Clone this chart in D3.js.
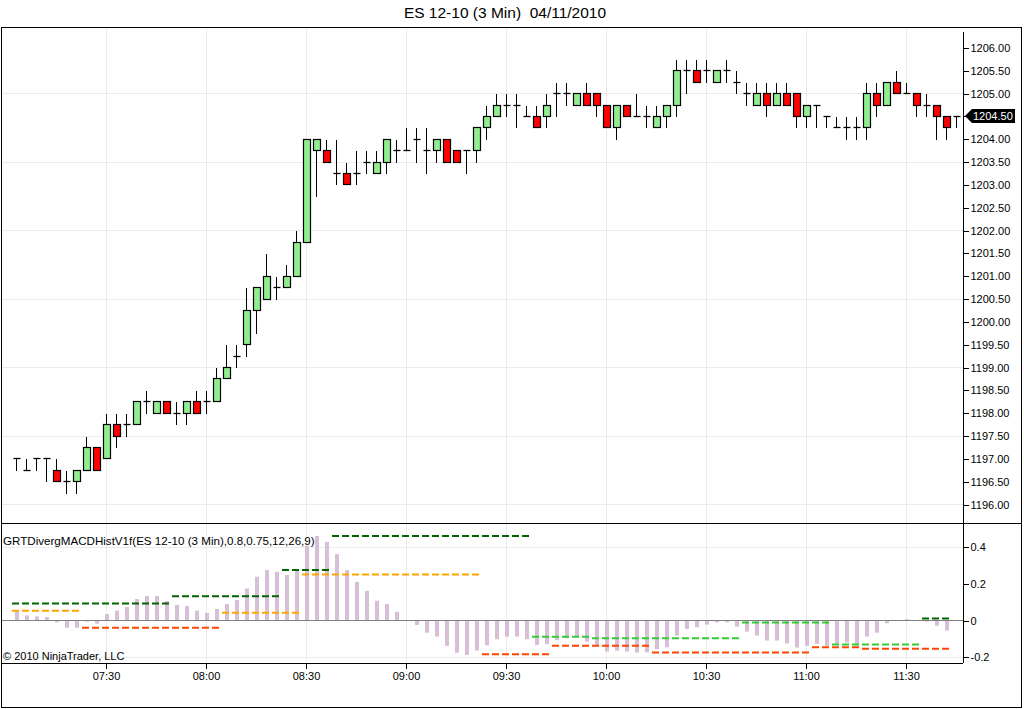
<!DOCTYPE html>
<html>
<head>
<meta charset="utf-8">
<script src="https://cdn.jsdelivr.net/npm/d3@7"></script>
<style>
  body { margin: 0; background: #fff; }
  svg { display: block; font-family: "Liberation Sans", Arial, sans-serif; }
  .axis text { font-size: 11px; fill: #000; }
  .axis line { stroke: #000; shape-rendering: crispEdges; }
  .grid line { stroke: #ebebeb; shape-rendering: crispEdges; }
</style>
</head>
<body>
<svg id="chart"></svg>
<script>
// chart texts
const chartTitle = 'ES 12-10 (3 Min)  04/11/2010';
const indicatorLabel = 'GRTDivergMACDHistV1f(ES 12-10 (3 Min),0.8,0.75,12,26,9)';
const copyrightLabel = '\u00a9 2010 NinjaTrader, LLC';

// 3 minute bars, first one stamped 07:03
const firstBarTime = '07:03';
const barMinutes = 3;

const opens = [
  1197, 1196.75, 1197, 1197, 1196.75, 1196.5, 1196.5, 1196.75, 1197.25, 1197,
  1197.75, 1197.75, 1197.75, 1198.25, 1198, 1198.25, 1198, 1198, 1198.25, 1198.25,
  1198.25, 1198.75, 1199.25, 1199.5, 1200.25, 1200.5, 1200.75, 1200.75, 1201, 1201.75,
  1203.75, 1203.75, 1203.25, 1203.25, 1203.25, 1203.5, 1203.25, 1203.5, 1203.75, 1203.75,
  1204, 1203.75, 1203.75, 1204, 1203.75, 1203.75, 1203.75, 1204.25, 1204.5, 1204.75,
  1204.75, 1204.5, 1204.5, 1204.5, 1205, 1205, 1204.75, 1205, 1205, 1204.75,
  1204.25, 1204.75, 1204.5, 1204.5, 1204.25, 1204.5, 1204.75, 1205.5, 1205.5, 1205.5,
  1205.25, 1205.5, 1205.25, 1205, 1204.75, 1205, 1204.75, 1205, 1205, 1204.5,
  1204.75, 1204.5, 1204.25, 1204.25, 1204.25, 1204.25, 1205, 1204.75, 1205.25, 1205,
  1205, 1204.75, 1204.75, 1204.5, 1204.5
];
const highs = [
  1197, 1197, 1197, 1197, 1197, 1196.75, 1196.75, 1197.5, 1197.25, 1198,
  1198, 1198, 1198.25, 1198.5, 1198.25, 1198.25, 1198.25, 1198.25, 1198.5, 1198.5,
  1199, 1199.5, 1199.5, 1200.75, 1200.75, 1201.5, 1201, 1201.25, 1202, 1204,
  1204, 1204, 1204, 1203.5, 1203.75, 1203.75, 1203.75, 1204, 1204, 1204.25,
  1204.25, 1204.25, 1204, 1204, 1203.75, 1203.75, 1204.25, 1204.75, 1205, 1205,
  1205, 1204.75, 1204.75, 1205, 1205.25, 1205.25, 1205, 1205.25, 1205, 1204.75,
  1204.75, 1204.75, 1205, 1204.75, 1204.75, 1204.75, 1205.75, 1205.75, 1205.75, 1205.75,
  1205.5, 1205.75, 1205.5, 1205.25, 1205.25, 1205.25, 1205.25, 1205.25, 1205, 1204.75,
  1204.75, 1204.5, 1204.5, 1204.5, 1204.5, 1205.25, 1205.25, 1205.25, 1205.5, 1205.25,
  1205, 1205, 1204.75, 1204.5, 1204.5
];
const lows = [
  1196.75, 1196.75, 1196.75, 1196.5, 1196.5, 1196.25, 1196.25, 1196.75, 1196.75, 1197,
  1197.25, 1197.5, 1197.75, 1198, 1198, 1198, 1197.75, 1197.75, 1198, 1198,
  1198.25, 1198.75, 1199, 1199.25, 1199.75, 1200.5, 1200.5, 1200.75, 1201, 1201.75,
  1202.75, 1203.5, 1203, 1203, 1203, 1203.25, 1203.25, 1203.25, 1203.5, 1203.75,
  1203.5, 1203.25, 1203.5, 1203.5, 1203.5, 1203.25, 1203.5, 1204, 1204.5, 1204.5,
  1204.25, 1204.5, 1204.25, 1204.25, 1204.5, 1204.75, 1204.75, 1204.75, 1204.5, 1204.25,
  1204, 1204.5, 1204.5, 1204.25, 1204.25, 1204.25, 1204.5, 1205, 1205.25, 1205.25,
  1205.25, 1205.25, 1205, 1204.75, 1204.75, 1204.5, 1204.75, 1204.75, 1204.25, 1204.25,
  1204.25, 1204.25, 1204.25, 1204, 1204, 1204, 1204.5, 1204.75, 1205, 1205,
  1204.5, 1204.5, 1204, 1204, 1204.25
];
const closes = [
  1197, 1196.75, 1197, 1197, 1196.5, 1196.5, 1196.75, 1197.25, 1196.75, 1197.75,
  1197.5, 1197.75, 1198.25, 1198.25, 1198.25, 1198, 1198, 1198.25, 1198, 1198.25,
  1198.75, 1199, 1199.25, 1200.25, 1200.75, 1201, 1200.75, 1201, 1201.75, 1204,
  1204, 1203.5, 1203.25, 1203, 1203.25, 1203.5, 1203.5, 1204, 1203.75, 1203.75,
  1204, 1203.75, 1204, 1203.5, 1203.5, 1203.75, 1204.25, 1204.5, 1204.75, 1204.75,
  1204.75, 1204.5, 1204.25, 1204.75, 1205, 1205, 1205, 1204.75, 1204.75, 1204.25,
  1204.75, 1204.5, 1204.5, 1204.5, 1204.5, 1204.75, 1205.5, 1205.5, 1205.25, 1205.5,
  1205.5, 1205.5, 1205.25, 1205, 1205, 1204.75, 1205, 1204.75, 1204.5, 1204.75,
  1204.75, 1204.5, 1204.25, 1204.25, 1204.25, 1205, 1204.75, 1205.25, 1205, 1205,
  1204.75, 1204.75, 1204.5, 1204.25, 1204.5
];

// MACD histogram, one value per bar
const histValues = [
  0.051, 0.025, 0.02, 0.016, -0.013, -0.042, -0.042, -0.009, -0.02, 0.033,
  0.051, 0.071, 0.114, 0.13, 0.13, 0.103, 0.082, 0.076, 0.051, 0.038,
  0.06, 0.087, 0.109, 0.172, 0.236, 0.272, 0.263, 0.245, 0.268, 0.404,
  0.458, 0.426, 0.359, 0.272, 0.208, 0.159, 0.105, 0.087, 0.045, 0,
  -0.027, -0.069, -0.091, -0.141, -0.178, -0.19, -0.167, -0.138, -0.105, -0.091,
  -0.091, -0.105, -0.136, -0.132, -0.109, -0.1, -0.091, -0.118, -0.136, -0.172,
  -0.167, -0.172, -0.178, -0.176, -0.159, -0.149, -0.085, -0.049, -0.04, -0.025,
  -0.013, -0.013, -0.036, -0.063, -0.085, -0.112, -0.112, -0.127, -0.15, -0.141,
  -0.13, -0.141, -0.13, -0.123, -0.13, -0.091, -0.069, -0.018, -0.002, 0.005,
  0, -0.009, -0.031, -0.058, 0
];

// divergence levels (dashed segments)
const segStart = ['07:03', '07:03', '07:24', '07:51', '08:06', '08:24', '08:30', '08:39', '09:24',
  '09:39', '09:45', '09:57', '10:15', '10:42', '11:03', '11:09', '11:18', '11:36'];
const segEnd = ['07:48', '07:21', '08:03', '08:21', '08:27', '08:36', '09:21', '09:36', '09:42',
  '09:54', '10:12', '10:39', '11:00', '11:06', '11:15', '11:33', '11:42', '11:42'];
const segValue = [0.09, 0.05, -0.042, 0.13, 0.04, 0.272, 0.248, 0.458, -0.187,
  -0.091, -0.14, -0.1, -0.177, -0.013, -0.149, -0.134, -0.156, 0.008];
const segColor = ['darkgreen', 'orange', 'orangered', 'darkgreen', 'orange', 'darkgreen', 'orange', 'darkgreen', 'orangered',
  'limegreen', 'orangered', 'limegreen', 'orangered', 'limegreen', 'orangered', 'limegreen', 'orangered', 'darkgreen'];

const priceTicks = d3.range(1196, 1206.01, 0.5);
const priceGrid = d3.range(1196, 1206.01, 1.5);
const histTicks = [-0.2, 0, 0.2, 0.4];
const histGrid = [-0.2, 0.4];

const config = {
  width: 1024,
  height: 709,
  frame: { left: 1, right: 1021, top: 27, bottom: 707 },
  axisX: 963,
  pricePanel: { top: 27, bottom: 523 },
  histPanel: { top: 523, bottom: 663 },
  upColor: '#90ee90',
  downColor: '#ff0000',
  histColor: '#d8bfd8'
};

const parseTime = d3.timeParse('%H:%M');
const t0 = parseTime(firstBarTime);
const bars = opens.map((o, i) => ({
  time: d3.timeMinute.offset(t0, i * barMinutes),
  open: o, high: highs[i], low: lows[i], close: closes[i], hist: histValues[i]
}));
const segments = segStart.map((s, i) => ({
  start: parseTime(s), end: parseTime(segEnd[i]), value: segValue[i], color: segColor[i]
}));
const last = bars[bars.length - 1];

const svg = d3.select('#chart')
  .attr('width', config.width)
  .attr('height', config.height);

// scales
const xScale = d3.scaleTime()
  .domain([bars[0].time, last.time])
  .range([16, 956]);
const yPrice = d3.scaleLinear().domain([1196, 1206]).range([504, 47.5]);
const yHist = d3.scaleLinear().domain([-0.2, 0.4]).range([656.7, 546.6]);

const px = d => Math.round(xScale(d)) + 0.5;
const py = v => Math.round(yPrice(v)) + 0.5;

svg.append('text')
  .attr('x', 505)
  .attr('y', 18)
  .attr('text-anchor', 'middle')
  .style('font-size', '15.5px')
  .style('white-space', 'pre')
  .text(chartTitle);

// grid lines
const grid = svg.append('g').attr('class', 'grid');
const timeTicks = xScale.ticks(d3.timeMinute.every(30));
grid.selectAll('.vgrid')
  .data(timeTicks)
  .join('line')
  .attr('x1', d => px(d)).attr('x2', d => px(d))
  .attr('y1', config.pricePanel.top).attr('y2', config.histPanel.bottom);
grid.selectAll('.pgrid')
  .data(priceGrid)
  .join('line')
  .attr('x1', config.frame.left).attr('x2', config.axisX)
  .attr('y1', d => py(d)).attr('y2', d => py(d));
grid.selectAll('.hgrid')
  .data(histGrid)
  .join('line')
  .attr('x1', config.frame.left).attr('x2', config.axisX)
  .attr('y1', d => Math.round(yHist(d)) + 0.5).attr('y2', d => Math.round(yHist(d)) + 0.5);

// candles
const candles = svg.append('g').attr('class', 'candles');
candles.selectAll('.wick')
  .data(bars)
  .join('line')
  .attr('class', 'wick')
  .attr('x1', d => px(d.time)).attr('x2', d => px(d.time))
  .attr('y1', d => py(d.high)).attr('y2', d => py(d.low))
  .attr('stroke', '#000')
  .attr('shape-rendering', 'crispEdges');
candles.selectAll('.body')
  .data(bars.filter(d => d.open !== d.close))
  .join('rect')
  .attr('class', 'body')
  .attr('x', d => px(d.time) - 3)
  .attr('width', 7)
  .attr('y', d => py(Math.max(d.open, d.close)))
  .attr('height', d => py(Math.min(d.open, d.close)) - py(Math.max(d.open, d.close)))
  .attr('fill', d => d.close > d.open ? config.upColor : config.downColor)
  .attr('stroke', '#000')
  .attr('stroke-width', 1.2);
candles.selectAll('.doji')
  .data(bars.filter(d => d.open === d.close))
  .join('line')
  .attr('class', 'doji')
  .attr('x1', d => px(d.time) - 3).attr('x2', d => px(d.time) + 4)
  .attr('y1', d => py(d.close)).attr('y2', d => py(d.close))
  .attr('stroke', '#000')
  .attr('stroke-width', 1.3);

// histogram panel
const hist = svg.append('g').attr('class', 'hist');
const zeroY = Math.round(yHist(0)) + 0.5;
hist.selectAll('.hbar')
  .data(bars.filter(d => d.hist !== 0))
  .join('rect')
  .attr('class', 'hbar')
  .attr('x', d => px(d.time) - 1.5)
  .attr('width', 4)
  .attr('y', d => Math.min(yHist(d.hist), yHist(0)))
  .attr('height', d => Math.abs(yHist(d.hist) - yHist(0)))
  .attr('fill', config.histColor);
hist.append('line')
  .attr('x1', config.frame.left).attr('x2', config.axisX)
  .attr('y1', zeroY).attr('y2', zeroY)
  .attr('stroke', '#808080')
  .attr('shape-rendering', 'crispEdges');
hist.selectAll('.level')
  .data(segments)
  .join('line')
  .attr('class', 'level')
  .attr('x1', d => px(d.start) - 4.5)
  .attr('x2', d => px(d.end) + 4.5)
  .attr('y1', d => yHist(d.value)).attr('y2', d => yHist(d.value))
  .attr('stroke', d => d.color)
  .attr('stroke-width', 2)
  .attr('stroke-dasharray', '7,3');

// axes (the last-price marker covers its own tick label)
const priceAxis = d3.axisRight(yPrice)
  .tickValues(priceTicks)
  .tickSize(5)
  .tickPadding(2)
  .tickFormat(d => d === last.close ? '' : d3.format('.2f')(d));
svg.append('g')
  .attr('class', 'axis')
  .attr('transform', `translate(${config.axisX + 0.5},0.5)`)
  .call(priceAxis)
  .call(g => g.select('.domain').remove());

const histAxis = d3.axisRight(yHist)
  .tickValues(histTicks)
  .tickSize(5)
  .tickPadding(2)
  .tickFormat(d => d === 0 ? '0' : String(d));
svg.append('g')
  .attr('class', 'axis')
  .attr('transform', `translate(${config.axisX + 0.5},0.5)`)
  .call(histAxis)
  .call(g => g.select('.domain').remove());

const timeAxis = d3.axisBottom(xScale)
  .tickValues(timeTicks)
  .tickSize(5)
  .tickPadding(4)
  .tickFormat(d3.timeFormat('%H:%M'));
svg.append('g')
  .attr('class', 'axis')
  .attr('transform', `translate(0.5,${config.histPanel.bottom + 0.5})`)
  .call(timeAxis)
  .call(g => g.select('.domain').remove())
  .selectAll('.tick')
  .attr('transform', d => `translate(${px(d) - 0.5},0)`);

// frame and panel borders
const borders = svg.append('g')
  .attr('stroke', '#000')
  .attr('shape-rendering', 'crispEdges');
borders.append('rect')
  .attr('x', config.frame.left + 0.5)
  .attr('y', config.frame.top + 0.5)
  .attr('width', config.frame.right - config.frame.left)
  .attr('height', config.frame.bottom - config.frame.top)
  .attr('fill', 'none');
borders.append('line')
  .attr('x1', config.frame.left).attr('x2', config.frame.right)
  .attr('y1', config.histPanel.top + 0.5).attr('y2', config.histPanel.top + 0.5);
borders.append('line')
  .attr('x1', config.frame.left).attr('x2', config.axisX)
  .attr('y1', config.histPanel.bottom + 0.5).attr('y2', config.histPanel.bottom + 0.5);
borders.append('line')
  .attr('x1', config.axisX + 0.5).attr('x2', config.axisX + 0.5)
  .attr('y1', 32).attr('y2', config.histPanel.bottom);

// last price marker
const lastY = yPrice(last.close);
const ax = config.axisX + 2;
svg.append('path')
  .attr('d', `M${ax},${lastY} L${ax + 7},${lastY - 7} L${ax + 50},${lastY - 7} L${ax + 50},${lastY + 7} L${ax + 7},${lastY + 7} Z`)
  .attr('fill', '#000');
svg.append('text')
  .attr('x', ax + 8)
  .attr('y', lastY + 4)
  .attr('fill', '#fff')
  .style('font-size', '11px')
  .text(d3.format('.2f')(last.close));

// panel labels
svg.append('text')
  .attr('x', 3)
  .attr('y', 545)
  .style('font-size', '11.6px')
  .text(indicatorLabel);
svg.append('text')
  .attr('x', 3)
  .attr('y', 660)
  .style('font-size', '11px')
  .text(copyrightLabel);
</script>
</body>
</html>
